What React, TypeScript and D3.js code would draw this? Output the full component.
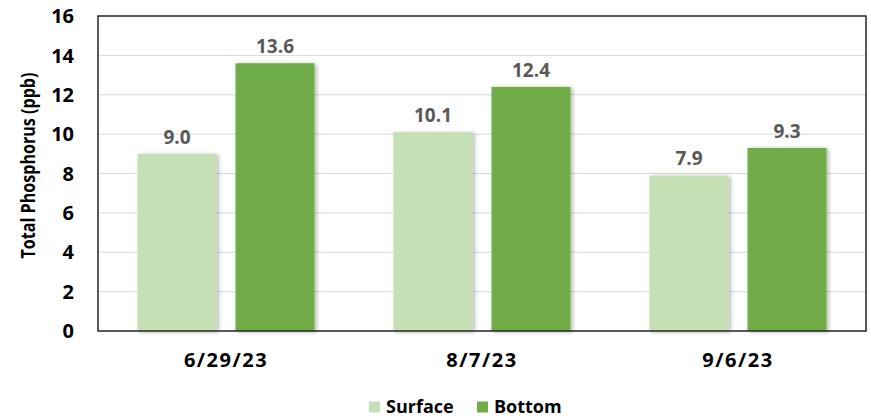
import { useEffect, useRef } from 'react';
import * as d3 from 'd3';

const dates = ['6/29/23', '8/7/23', '9/6/23'];
const seriesNames = ['Surface', 'Bottom'];
const surfaceValues = [9.0, 10.1, 7.9];
const bottomValues = [13.6, 12.4, 9.3];
const yTicks = [0, 2, 4, 6, 8, 10, 12, 14, 16];
const seriesColors = ['#c5e0b4', '#70ad47'];

const FONT = '"Open Sans", "DejaVu Sans", sans-serif';

export default function App() {
  const svgRef = useRef<SVGSVGElement>(null);
  const width = 871;
  const height = 418;

  useEffect(() => {
    if (!svgRef.current) return;
    const margin = { top: 16, right: 5, bottom: 87, left: 98 };
    const innerWidth = width - margin.left - margin.right;
    const innerHeight = height - margin.top - margin.bottom;

    const svg = d3.select(svgRef.current);
    svg.selectAll('*').remove();

    const defs = svg.append('defs');
    const filter = defs
      .append('filter')
      .attr('id', 'shadow')
      .attr('x', '-20%')
      .attr('y', '-10%')
      .attr('width', '140%')
      .attr('height', '130%');
    filter
      .append('feDropShadow')
      .attr('dx', 2)
      .attr('dy', 1)
      .attr('stdDeviation', 2)
      .attr('flood-color', '#000')
      .attr('flood-opacity', 0.3);

    const x0 = d3.scaleBand().domain(dates).range([0, innerWidth]).padding(0);
    const x1 = d3
      .scaleBand()
      .domain(seriesNames)
      .range([0, x0.bandwidth()])
      .paddingInner(0.194)
      .paddingOuter(0.403);
    const y = d3.scaleLinear().domain([0, 16]).range([innerHeight, 0]);

    const g = svg
      .append('g')
      .attr('transform', `translate(${margin.left},${margin.top})`);

    // gridlines
    g.append('g')
      .selectAll('line')
      .data(yTicks.filter((t) => t > 0 && t < 16))
      .enter()
      .append('line')
      .attr('x1', 0)
      .attr('x2', innerWidth)
      .attr('y1', (d) => y(d))
      .attr('y2', (d) => y(d))
      .attr('stroke', '#d9d9d9')
      .attr('stroke-width', 1);

    // y tick labels
    g.append('g')
      .selectAll('text')
      .data(yTicks)
      .enter()
      .append('text')
      .attr('x', -24)
      .attr('y', (d) => y(d))
      .attr('dy', '0.36em')
      .attr('text-anchor', 'end')
      .attr('font-family', FONT)
      .attr('font-weight', 700)
      .attr('font-size', 20)
      .attr('fill', '#000')
      .text((d) => d);

    const rows = dates.map((d, i) => ({
      date: d,
      values: [surfaceValues[i], bottomValues[i]],
    }));

    const groups = g
      .selectAll('g.cat')
      .data(rows)
      .enter()
      .append('g')
      .attr('class', 'cat')
      .attr('transform', (d) => `translate(${x0(d.date)},0)`);

    groups
      .selectAll('rect')
      .data((d) => d.values.map((v, j) => ({ key: seriesNames[j], v, j })))
      .enter()
      .append('rect')
      .attr('x', (d) => x1(d.key)!)
      .attr('width', x1.bandwidth())
      .attr('y', (d) => y(d.v))
      .attr('height', (d) => innerHeight - y(d.v))
      .attr('fill', (d) => seriesColors[d.j])
      .attr('filter', 'url(#shadow)');

    groups
      .selectAll('text')
      .data((d) => d.values.map((v, j) => ({ key: seriesNames[j], v })))
      .enter()
      .append('text')
      .attr('x', (d) => x1(d.key)! + x1.bandwidth() / 2)
      .attr('y', (d) => y(d.v) - 10)
      .attr('text-anchor', 'middle')
      .attr('font-family', FONT)
      .attr('font-weight', 700)
      .attr('font-size', 19)
      .attr('fill', '#595959')
      .text((d) => d.v.toFixed(1));

    // plot border
    g.append('rect')
      .attr('x', 0)
      .attr('y', 0)
      .attr('width', innerWidth)
      .attr('height', innerHeight)
      .attr('fill', 'none')
      .attr('stroke', '#262626')
      .attr('stroke-width', 1.5);

    // x labels
    g.append('g')
      .selectAll('text')
      .data(dates)
      .enter()
      .append('text')
      .attr('x', (d) => x0(d)! + x0.bandwidth() / 2)
      .attr('y', innerHeight + 36)
      .attr('text-anchor', 'middle')
      .attr('font-family', FONT)
      .attr('font-weight', 700)
      .attr('font-size', 20)
      .attr('letter-spacing', 1.5)
      .attr('fill', '#000')
      .text((d) => d);

    // y axis title
    svg
      .append('text')
      .attr('transform', `translate(35,${margin.top + innerHeight / 2 - 8}) rotate(-90)`)
      .attr('text-anchor', 'middle')
      .attr('font-family', FONT)
      .attr('font-weight', 700)
      .attr('font-size', 19)
      .attr('textLength', 186)
      .attr('lengthAdjust', 'spacingAndGlyphs')
      .attr('fill', '#000')
      .text('Total Phosphorus (ppb)');

    // legend
    const legend = svg.append('g').attr('transform', 'translate(369,413)');
    const legendX = [0, 108];
    seriesNames.forEach((name, i) => {
      legend
        .append('rect')
        .attr('x', legendX[i])
        .attr('y', -11.5)
        .attr('width', 11)
        .attr('height', 11)
        .attr('fill', seriesColors[i]);
      legend
        .append('text')
        .attr('x', legendX[i] + 17)
        .attr('y', 0)
        .attr('font-family', FONT)
        .attr('font-weight', 700)
        .attr('font-size', 18)
        .attr('fill', '#000')
        .text(name);
    });
  }, []);

  return (
    <svg
      ref={svgRef}
      width={width}
      height={height}
      style={{ position: 'absolute', left: 0, top: 0, background: '#fff' }}
    />
  );
}
